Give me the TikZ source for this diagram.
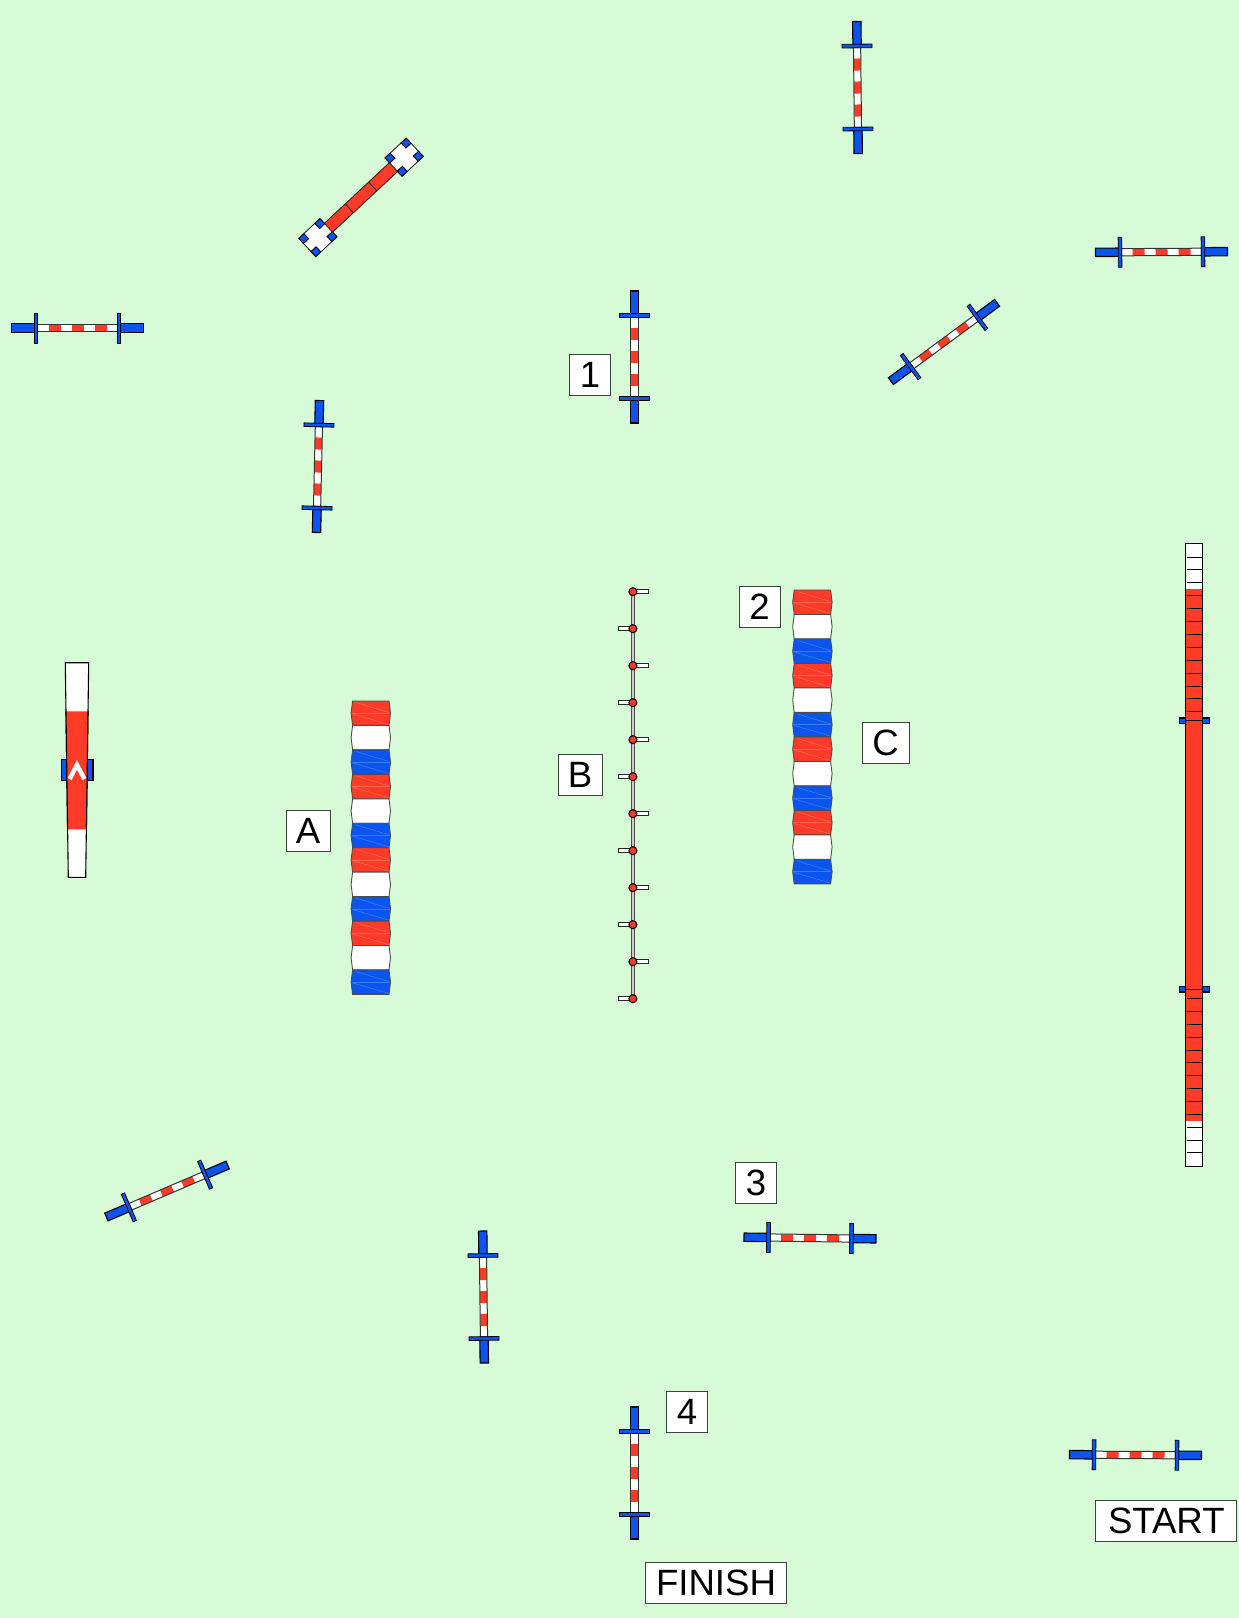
\documentclass[tikz,border=0pt]{standalone}
\usepackage{fontspec}
\setmainfont{Liberation Sans}
\usepackage{xcolor}
\usetikzlibrary{positioning}
\definecolor{fieldgreen}{HTML}{D7FBD7}
\definecolor{gearred}{HTML}{FF3A26}
\definecolor{gearblue}{HTML}{0A55F0}
\tikzset{
  tagbox/.style={draw=black!75,fill=white,line width=1pt,inner sep=0pt,
    minimum width=41pt,minimum height=41pt,font=\fontsize{36.6}{40}\selectfont},
  gearline/.style={draw=black,line width=1.1pt},
  pics/jumpbar/.style={code={
    \fill[white] (-41,-3.4) rectangle (41,3.4);
    \foreach \a/\b in {-29/-17,-6/6,17/29}
      \fill[gearred] (\a,-3.4) rectangle (\b,3.4);
    \draw[draw=black!80,line width=1pt] (-41,-3.6) -- (41,-3.6) (-41,3.6) -- (41,3.6);
    \foreach \s in {-1,1} {
      \draw[gearline,fill=gearblue] (\s*40,-4.2) rectangle (\s*66,4.2);
      \draw[draw=black,line width=0.8pt,fill=gearblue] (\s*41.5-\s*1.8,-15) rectangle (\s*41.5+\s*1.8,15);
    }
  }},
  pics/tunnelseg/.style={code={
    \draw[draw=black!70,fill=#1,line width=0.9pt] (-18.2,0) -- (18.2,0) -- (19.7,12.2) -- (18.2,24.4)
      -- (-18.2,24.4) -- (-19.7,12.2) -- cycle;
    \draw[white,opacity=0.22,line width=0.6pt] (-19,12.2) -- (19,12.2);
    \draw[white,opacity=0.22,line width=0.6pt] (-15,1.5) -- (18,11.5);
    \draw[white,opacity=0.22,line width=0.6pt] (-18,13) -- (18,23.5);
  }}
}
\begin{document}
\begin{tikzpicture}[x=1pt,y=-1pt]
  \fill[fieldgreen] (0,0) rectangle (1239,1618);
  \useasboundingbox (0,0) rectangle (1239,1618);
  % jumps
  \pic[rotate=-89.4] at (857.5,87.5) {jumpbar};
  \pic[rotate=0.3] at (1161.5,252) {jumpbar};
  \pic at (77.5,328) {jumpbar};
  \pic[rotate=90] at (634.5,357) {jumpbar};
  \pic[rotate=36.4] at (944,342) {jumpbar};
  \pic[rotate=88.7] at (318,466.5) {jumpbar};
  \pic[rotate=23.2] at (167,1191) {jumpbar};
  \pic[rotate=-89.3] at (483.5,1297) {jumpbar};
  \pic[rotate=-0.7] at (810,1238) {jumpbar};
  \pic[rotate=90] at (634.5,1473) {jumpbar};
  \pic[rotate=-0.3] at (1135.5,1455) {jumpbar};
  % tunnels
  \begin{scope}[xshift=370.8pt,yshift=-701pt]
    \foreach \segcolor [count=\n from 0] in {gearred,white,gearblue,gearred,white,gearblue,gearred,white,gearblue,gearred,white,gearblue}
      \pic at (0,\n*24.45) {tunnelseg=\segcolor};
  \end{scope}
  \begin{scope}[xshift=812.4pt,yshift=-590pt]
    \foreach \segcolor [count=\n from 0] in {gearred,white,gearblue,gearred,white,gearblue,gearred,white,gearblue,gearred,white,gearblue}
      \pic at (0,\n*24.5) {tunnelseg=\segcolor};
  \end{scope}
  % weave
  \draw[draw=black!70,line width=4pt] (632.9,591.7) -- (632.9,998.8);
  \draw[draw=black!20,line width=1.6pt] (632.9,591.7) -- (632.9,998.8);
  \foreach \n in {0,...,11} {
    \pgfmathsetmacro{\side}{mod(\n,2)==0 ? 15.5 : -14.5}
    \draw[draw=black!85,fill=white,line width=0.9pt] (632.9,591.7+\n*37-2) rectangle (632.9+\side,591.7+\n*37+2);
    \draw[gearline,fill=gearred] (632.9,591.7+\n*37) circle (4);
  }
  % dogwalk
  \draw[gearline,fill=white] (1185.2,543.7) rectangle (1202.8,1166.7);
  \fill[gearred] (1185.7,589) rectangle (1202.3,1121);
  \draw[line width=1.1pt] (1185.2,589) -- (1185.2,1121) (1202.8,589) -- (1202.8,1121);
  \foreach \tick in {0,...,12}
    \draw[black,line width=1pt] (1187.2,557+\tick*12.9) -- (1201.8,557+\tick*12.9);
  \foreach \tick in {0,...,12}
    \draw[black,line width=1pt] (1187.2,998.7+\tick*12.85) -- (1201.8,998.7+\tick*12.85);
  \foreach \wingy in {720.7,989.3} {
    \draw[gearline,fill=gearblue] (1179.8,\wingy-2.7) rectangle (1185.2,\wingy+2.7);
    \draw[gearline,fill=gearblue] (1202.8,\wingy-2.7) rectangle (1209.5,\wingy+2.7);
    \draw[black,line width=1.5pt] (1185.2,\wingy) -- (1202.8,\wingy);
  }
  % seesaw
  \draw[gearline,fill=gearblue] (61.3,759.3) rectangle (93,780.7);
  \draw[gearline,fill=white] (65.3,662.7) -- (88.7,662.7) -- (85.7,877.3) -- (68.3,877.3) -- cycle;
  \fill[gearred] (66,711.3) -- (88,711.3) -- (86.4,829.3) -- (67.6,829.3) -- cycle;
  \draw[black,line width=1.1pt] (66,711.3) -- (67.6,829.3) (88,711.3) -- (86.4,829.3);
  \draw[white,line width=4.5pt] (69.6,779) -- (77,765) -- (84.4,779);
  % table
  \begin{scope}[shift={(361,197.4)},rotate=43]
    \draw[draw=black!85,fill=gearred,line width=0.9pt] (-46,-6) rectangle (46,6);
    \draw[draw=black!85,line width=0.9pt] (-16,-6) -- (-16,6) (16,-6) -- (16,6);
    \foreach \s in {-1,1} {
      \draw[draw=black!85,fill=white,line width=0.9pt] (\s*59-14.5,-12.5) rectangle (\s*59+14.5,12.5);
      \foreach \u in {-1,1}
        \foreach \v in {-1,1}
          \draw[gearline,fill=gearblue,line width=0.9pt] (\s*59+\u*11-3.5,\v*9-3.5) rectangle (\s*59+\u*11+3.5,\v*9+3.5);
    }
  \end{scope}
  % labels
  \node[tagbox] (tagone) at (590,374.5) {1};
  \node[tagbox] (tagtwo) at (759.5,606.5) {2};
  \node[tagbox] (tagthree) at (756,1182.5) {3};
  \node[tagbox] (tagfour) at (687,1411.5) {4};
  \node[tagbox,minimum width=44pt] (taga) at (308,830.5) {A};
  \node[tagbox,minimum width=44pt] (tagb) at (580,775) {B};
  \node[tagbox,minimum width=47pt] (tagc) at (885.5,743) {C};
  \node[tagbox,minimum width=141pt] (tagstart) at (1166.3,1521) {START};
  \node[tagbox,minimum width=141pt] (tagfinish) at (716,1582.5) {FINISH};
\end{tikzpicture}
\end{document}
